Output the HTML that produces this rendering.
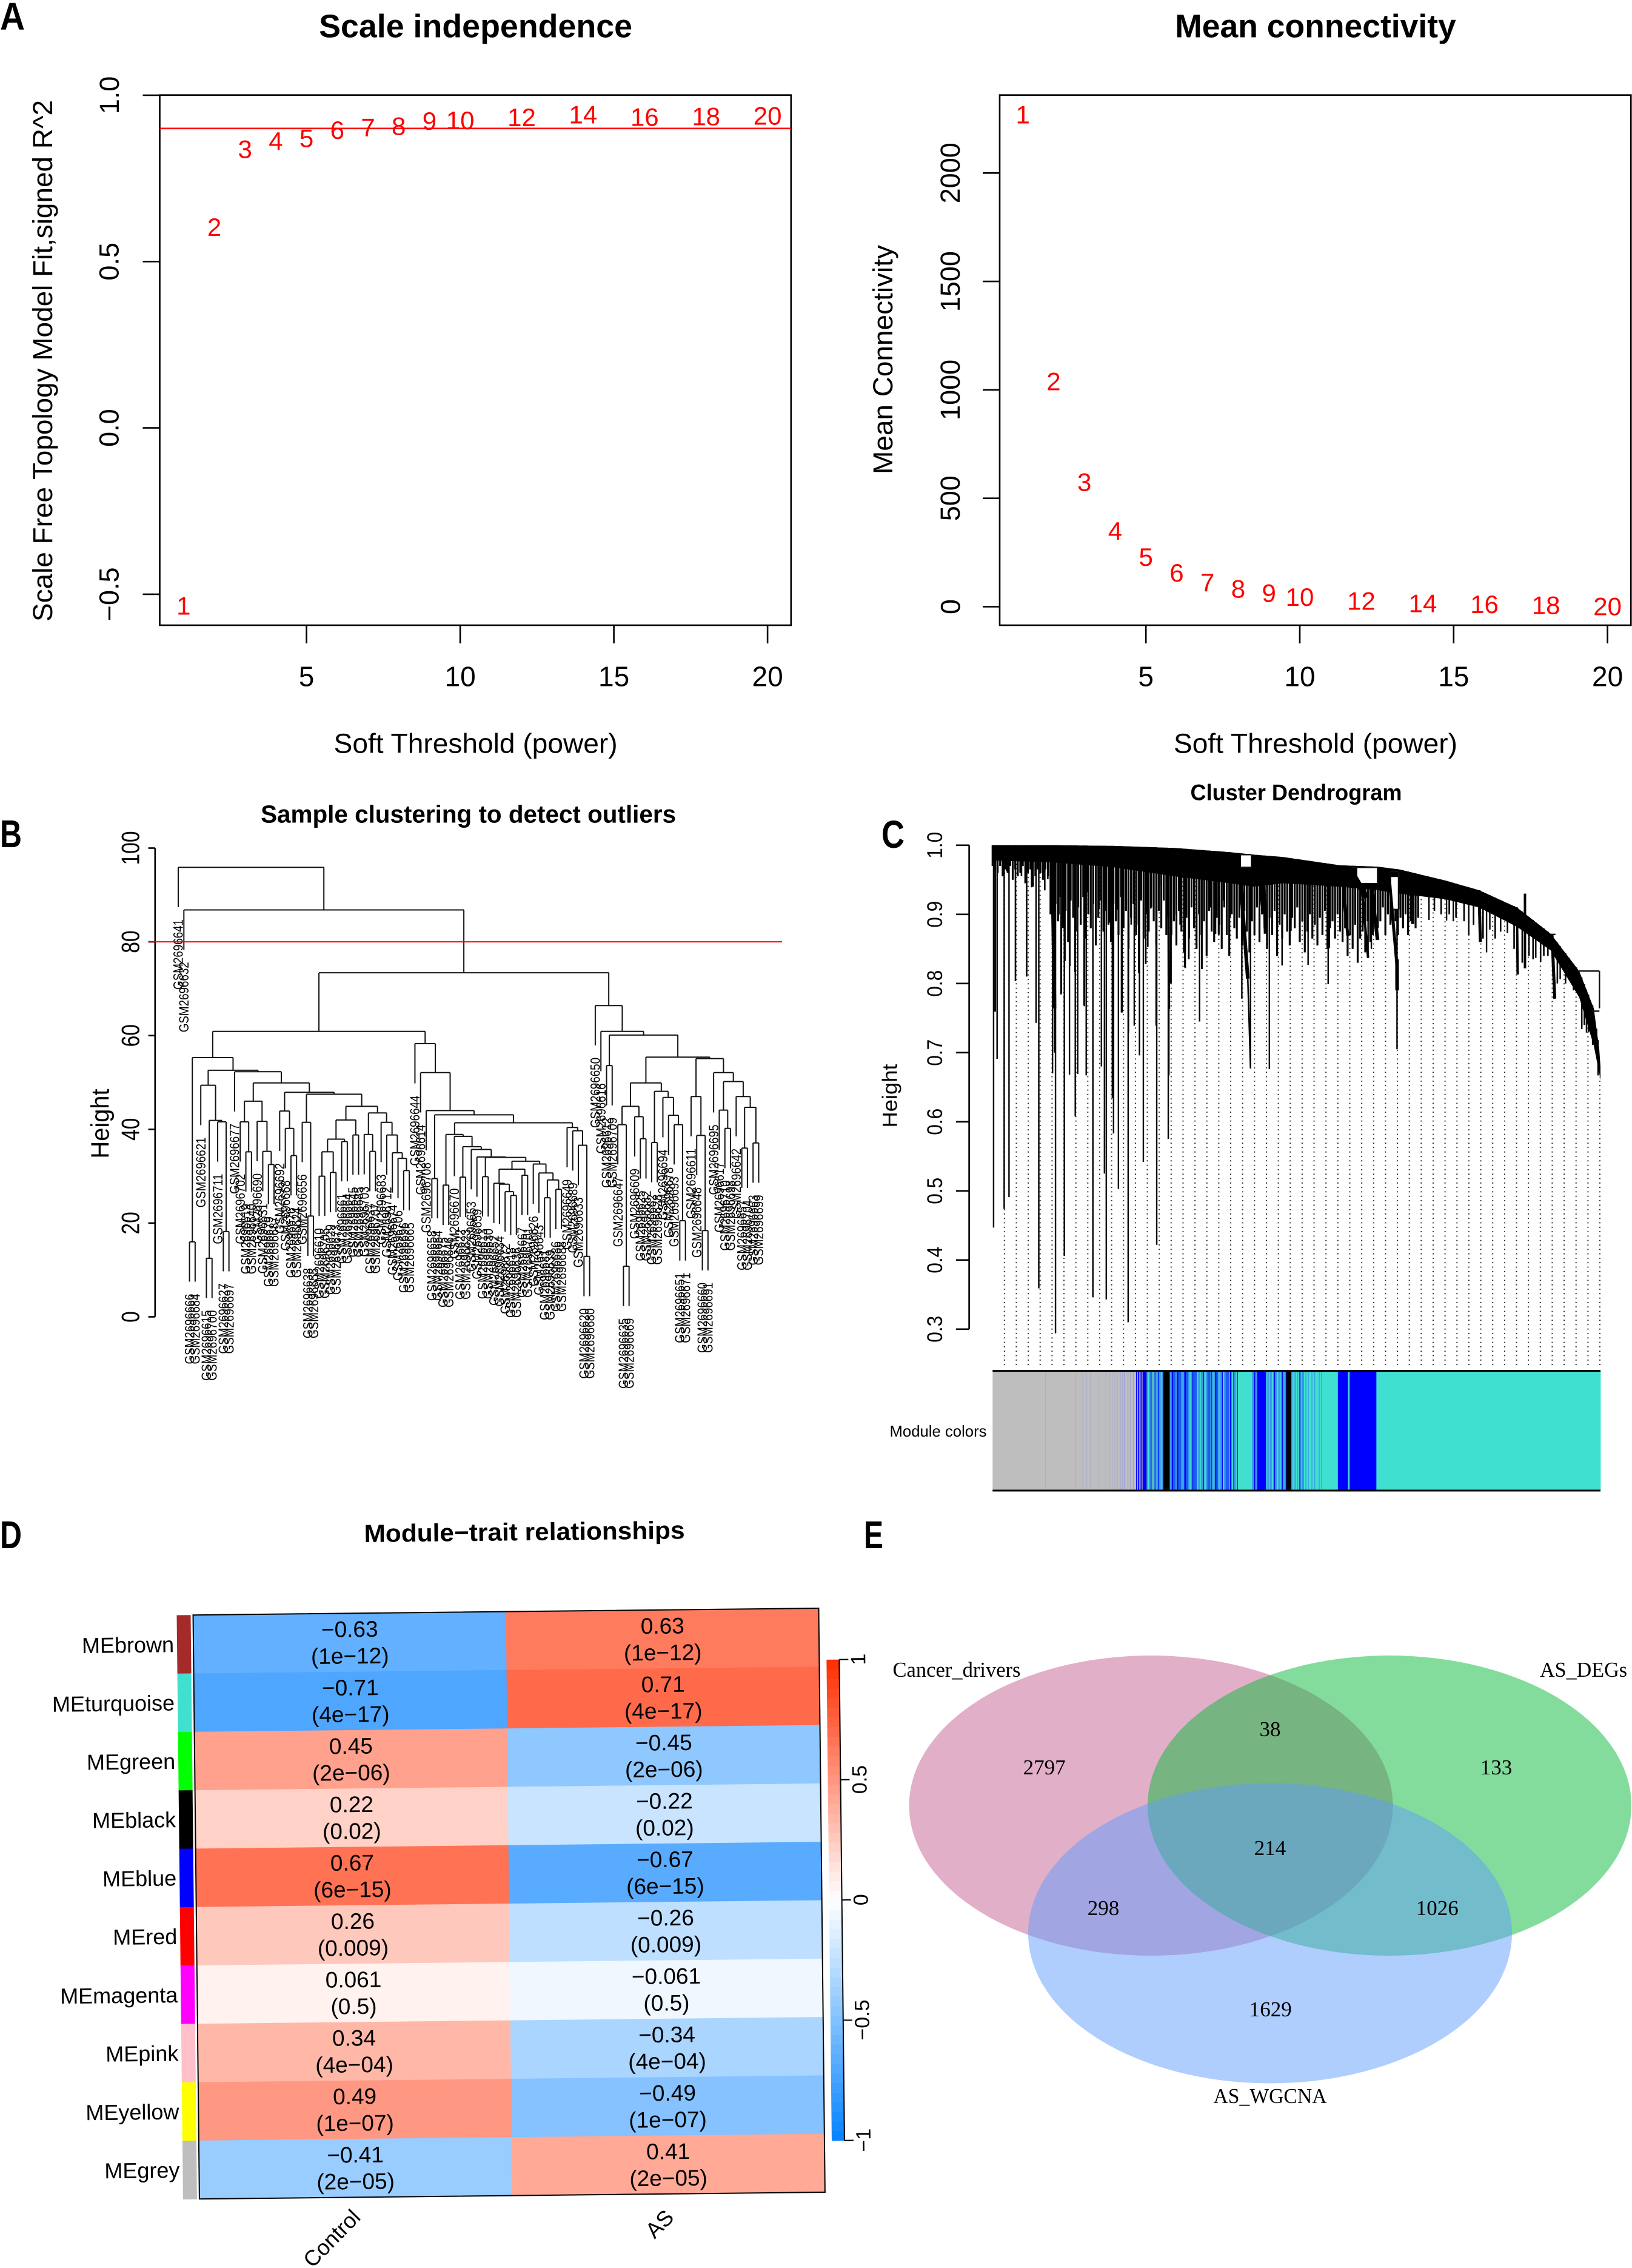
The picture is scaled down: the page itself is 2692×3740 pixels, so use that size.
<!DOCTYPE html>
<html lang="en">
<head>
<meta charset="utf-8">
<title>WGCNA analysis figure</title>
<style>
html,body{margin:0;padding:0;background:#fff;}
svg{display:block;font-family:"Liberation Sans",sans-serif;}
.serif{font-family:"Liberation Serif",serif;}
</style>
</head>
<body>
<svg id="figure" xmlns="http://www.w3.org/2000/svg" width="2692" height="3740" viewBox="0 0 2692 3740">
  <rect x="0" y="0" width="2692" height="3740" fill="#fff"/>

  <g font-weight="bold" font-size="64" fill="#000">
    <text x="0" y="49" textLength="41" lengthAdjust="spacingAndGlyphs">A</text>
    <text x="0" y="1397" textLength="36" lengthAdjust="spacingAndGlyphs">B</text>
    <text x="1454" y="1398" textLength="38" lengthAdjust="spacingAndGlyphs">C</text>
    <text x="0" y="2553" textLength="36" lengthAdjust="spacingAndGlyphs">D</text>
    <text x="1425" y="2553" textLength="32" lengthAdjust="spacingAndGlyphs">E</text>
  </g>

  <g id="panel-a"></g>
  <g id="panel-a2"></g>
  <g id="panel-b"></g>
  <g id="panel-c"></g>
  <g id="panel-d"></g>

  <g>
    <ellipse cx="1898.6" cy="2977.5" rx="399" ry="247.5" fill="#c55f91" fill-opacity="0.5"/>
    <ellipse cx="2292" cy="2977.5" rx="399" ry="247.5" fill="#09b939" fill-opacity="0.5"/>
    <ellipse cx="2095" cy="3188" rx="399" ry="247.5" fill="#5f9bfb" fill-opacity="0.5"/>
    <g class="serif" fill="#000" font-size="35" text-anchor="middle">
      <text x="1578" y="2765" textLength="211" lengthAdjust="spacingAndGlyphs">Cancer_drivers</text>
      <text x="2612" y="2765" textLength="144" lengthAdjust="spacingAndGlyphs">AS_DEGs</text>
      <text x="2095" y="3468" textLength="187" lengthAdjust="spacingAndGlyphs">AS_WGCNA</text>
      <text x="1722.6" y="2926">2797</text>
      <text x="2095" y="2863">38</text>
      <text x="2468" y="2926">133</text>
      <text x="2095" y="3059">214</text>
      <text x="1820" y="3158">298</text>
      <text x="2370.7" y="3158">1026</text>
      <text x="2095.7" y="3325">1629</text>
    </g>
  </g>
</svg>

<script>
/* ---------- Panel A data ---------- */
const softPowers = [1,2,3,4,5,6,7,8,9,10,12,14,16,18,20];
const scaleFitR2 = [-0.534,0.604,0.838,0.863,0.871,0.896,0.904,0.907,0.923,0.925,0.934,0.942,0.935,0.937,0.938];
const meanConnectivity = [2270,1040,575,350,230,157,112,83,63,45,27,16,12,7,2];
const powerTicks = [5,10,15,20];
const r2Ticks = [-0.5,0,0.5,1];
const r2TickLabels = ['\u22120.5','0.0','0.5','1.0'];
const r2Cutoff = 0.9;
const connTicks = [0,500,1000,1500,2000];

/* ---------- Panel B data ---------- */
const sampleHeightTicks = [0,20,40,60,80,100];
const outlierCutoff = 80;
const leafHang = 8.5;
const samplePrefix = 'GSM2696';
/* hclust tree: [merge height, left, right]; a number is a sample suffix */
const sampleTree =
[95.9,641,[86.8,632,[73.4,
 [60.9,
  [55.3,[16.0,666,684],
   [52.6,
    [49.4,621,[41.9,[12.5,615,700],[41.6,711,[18.2,627,697]]]],
    [52.3,677,[49.9,
      [46.0,[41.6,702,[35.2,619,640]],[41.7,690,[35.3,631,[32.5,679,687]]]],
      [47.9,
       [43.9,692,[40.2,668,[34.4,676,624]]],
       [47.5,
        [41.5,656,[21.5,638,655]],
        [44.9,
         [42.0,[37.9,[35.2,[30.0,610,705],[30.8,629,673]],[37.4,661,664]],[38.8,645,685]],
         [43.5,[38.9,703,[35.3,637,707]],[41.5,683,[38.8,712,[35.0,674,[33.8,706,[31.2,696,665]]]]]]
        ]]]]]]],
  [58.3,644,[52.1,614,[44.0,708,[43.1,[29.5,658,654],[41.4,
     [38.9,[28.1,675,646],[38.5,670,[36.3,[29.8,622,623],[35.7,653,[34.1,659,[34.0,[29.9,613,630],
        [33.2,
         [31.5,[28.5,652,[28.3,634,[26.7,672,[25.9,618,636]]]],[30.2,667,701]],
         [32.6,626,[30.7,643,[29.2,[25.4,681,639],[27.2,686,688]]]]
        ]]]]]]],
     [40.4,649,[39.7,689,[36.6,633,[12.9,620,680]]]]
  ]]]]]],
 [66.4,650,[60.9,616,[60.1,[53.6,612,709],[55.4,
   [49.9,
    [44.9,[41.0,647,[10.8,635,669]],[42.7,609,[38.0,625,682]]],
    [48.1,[37.2,662,628],[46.8,694,[43.0,678,[41.0,693,[20.5,651,671]]]]]
   ],
   [55.1,
    [47.0,611,[38.7,648,[18.4,660,691]]],
    [52.1,695,[50.2,[44.1,617,[40.2,710,698]],[47.0,642,[44.7,[36.0,657,704],[37.1,663,699]]]]]
   ]
 ]]]]
]]];

/* ---------- Panel C data ---------- */
const geneHeightTicks = [0.3,0.4,0.5,0.6,0.7,0.8,0.9,1.0];
const geneHeightLabels = ['0.3','0.4','0.5','0.6','0.7','0.8','0.9','1.0'];
const bandLeaf  = [0,.1,.2,.3,.39,.4286,.4776,.571,.633,.669,.7445,.80,.8625,.918,.965,.989,.998,1];
const bandUpper = [1,1,.999,.996,.99,.9864,.983,.971,.969,.965,.949,.935,.91,.872,.818,.764,.705,.68];
const bandLower = [.978,.975,.968,.955,.945,.94,.945,.94,.935,.93,.922,.91,.882,.848,.78,.71,.67,.66];
const spikeLeaf = [.0016,.004,.0074,.019,.027,.056,.0715,.076,.0986,.1035,.102,.1126,.118,.1265,.136,.14,.154,.151,.165,.179,.184,.187,.197,.199,.207,.213,.223,.2235,.2416,.248,.233,.27,.269,.289,.29,.293,.316,.3227,.335,.3405,.344,.3663,.3716,.3908,.41,.4243,.4553,.4762,.519,.552,.554,.6177,.6231,.6653,.7179,.7468,.7579,.7833,.8126,.818,.8469,.8936,.9016,.9337,.9426,.9484,.9604,.9693,.977,.9871,.996];
const spikeLow  = [.447,.759,.691,.474,.491,.81,.743,.359,.67,.294,.70,.784,.406,.668,.608,.669,.667,.767,.346,.68,.525,.343,.634,.583,.503,.758,.31,.728,.696,.542,.739,.422,.739,.575,.667,.80,.824,.835,.859,.745,.821,.872,.871,.895,.778,.677,.676,.826,.827,.799,.851,.837,.85,.705,.892,.891,.89,.87,.845,.878,.873,.837,.831,.806,.80,.806,.79,.734,.729,.711,.667];
const midDropLeaf = [.0043,.0233,.0376,.0475,.0559,.0642,.0858,.0908,.1090,.1130,.1190,.1270,.1356,.1506,.1556,.1749,.1928,.2054,.2121,.2280,.2403,.2520,.2553,.2603,.2769,.2869,.2935,.3018,.3085,.3168,.3228,.3351,.3444,.3583,.3667,.3723,.3799,.3899,.7268,.7379,.7512,.7623,.7756,.7912,.8068,.8268,.8357,.8579,.8713,.8824,.8891,.9068,.9135,.9291,.9557,.9735,.9802,.9935];
const midDropLow  = [.7595,.9624,.8033,.9551,.8106,.9391,.9347,.9508,.8997,.7858,.8325,.8252,.8164,.7683,.9318,.9084,.8880,.9070,.7580,.8851,.8150,.8281,.8529,.9084,.9420,.8967,.8004,.8997,.8851,.8223,.8354,.8588,.8208,.9099,.8719,.8705,.9201,.8953,.905,.90,.9,.895,.89,.885,.865,.865,.875,.85,.83,.84,.835,.84,.84,.80,.79,.74,.73,.70];
const fringeLow = [.97,.965,.96,.97,.955,.965,.96,.97,.95,.965,.955,.96,.97,.945,.96,.965,.94,.955,.965,.96,.95,.965,.955,
 .90,.87,.915,.89,.925,.88,.905,.86,.92,.895,.875,.91,.885,.925,.865,.90,.88,.915,.855,.895,.92,.875,.905,.885,.86,.915,.89,.87,.925,.88,.905,.85,.895,.915,.87,.885,.92,.865,.90,.875,.91,.89,.855,.905,.88,.92,.87,.895,
 .87,.89,.855,.905,.875,.845,.895,.865,.91,.88,.85,.90,.87,.89,.84,.905,.875,.86,.895,.885,.85,.91,.87,.84,.90,.88,.865,.895,.855,.905,.875,.845,.89,.87,.91,.86,.90,.88,.85,.895,.87,.905,.84,.885,.865,.90,.875,.855,.895,.88,.91,.86,.89,.845,.875,.90,.865,.885,.855,.895,.87,.905,.85,.88,.89,.865,.90,.875,
 .86,.88,.84,.87,.85,.885,.83,.865,.875,.845,.89,.86,.87,.90,.88,.89,.91,.87,.90,.885,.905,.89,.87,.895,.88,.90,.87,.89,.905,.88,.895];
const fringeSpan = 0.70;
/* open gaps between branches */
const gapFrom = [.4086,.5999,.6556];
const gapTo   = [.4250,.6333,.6667];
const gapHigh = [.9864,.968,.954];
const gapLow  = [.968,.9455,.907];
/* collapsed clusters: start leaf, end leaf, top height, bottom height, weight */
const clusterFrom = [.0978,.2892,.4063,.4198,.4384,.4464,.4909,.5732,.5866,.6066,.6244,.6533,.6653,.6911,.8002,.8625,.8758,.9203];
const clusterTo   = [.1019,.2901,.4198,.4243,.4464,.4486,.4900,.5844,.6155,.6177,.6333,.6653,.6655,.6911,.8024,.8638,.8758,.9248];
const clusterTop  = [.995,.98,.968,.807,.983,.95,.98,.969,.968,.945,.93,.945,.835,.96,.935,.91,.93,.87];
const clusterLow  = [.764,.763,.807,.677,.901,.872,.876,.869,.924,.837,.863,.825,.79,.886,.86,.813,.822,.778];
const clusterWeight = [6,4,6,2.5,8,5,4,5,9,4,6,5,6,5,5,4,4,5];
const branchLeafA = [.965,.9983,.591,.6333,.6547,.668,.6547,.4063,.4063,.918,.985];
const branchLeafB = [.9983,.9983,.6333,.6333,.668,.668,.668,.425,.425,.926,.9983];
const branchHighA = [.818,.818,.968,.968,.962,.962,.907,.9864,.968,.871,.76];
const branchHighB = [.818,.764,.968,.945,.962,.907,.907,.9864,.968,.871,.76];
/* module colour runs: one letter for the module, then its size */
const moduleRuns = ('g130 l1 g74 l1 g16 l1 g9 l1 g8 l1 g20 l1 g16 l1 g9 l1 g5 l1 g5 l1 g4 l2 g6 l2 g3 l2 g3 l3 g6 l2 g4 l2 g5 l3 g5 b2 l3 b3 g3 b3 g2 ' +
 'b10 a4 t2 m4 b2 a3 t2 m3 b2 t2 m5 b2 m4 t2 m3 b3 k14 ' +
 'm5 b3 d6 m4 b3 d8 t2 m5 b4 d6 m3 t3 m4 b2 d9 t3 m5 t2 m6 b2 t4 m4 d7 m3 b2 t3 m4 b3 d5 t3 m6 b2 t3 m4 d8 m3 b3 m2 t3 b2 m4 t3 b2 t2 ' +
 't33 m5 b3 m5 b22 t3 m4 t2 m5 t3 m3 b2 m5 t3 m4 t2 m3 b2 m5 t2 b2 k12 ' +
 'm3 t5 m3 t4 m2 t3 b2 m3 t3 b1 m2 t4 m2 t4 m2 t7 m2 t5 m2 t9 m2 t4 m2 t10 t29 b25 t4 b66 t553').split(' ');
const moduleRunColours = {g:'#bebebe',l:'#a3a8d0',b:'#0000ff',t:'#40e0d0',m:'#3a9ce6',d:'#1a5cf0',a:'#5f9fa8',k:'#000000'};
const dottedGuideCount = 51;

/* ---------- Panel D data ---------- */
const moduleNames = ['MEbrown','MEturquoise','MEgreen','MEblack','MEblue','MEred','MEmagenta','MEpink','MEyellow','MEgrey'];
const moduleSwatches = ['#a52a2a','#40e0d0','#00ff00','#000000','#0000ff','#ff0000','#ff00ff','#ffc0cb','#ffff00','#bebebe'];
const controlCorr = [-0.63,-0.71,0.45,0.22,0.67,0.26,0.061,0.34,0.49,-0.41];
const asCorr = [0.63,0.71,-0.45,-0.22,-0.67,-0.26,-0.061,-0.34,-0.49,0.41];
const corrPvalues = ['1e\u221212','4e\u221217','2e\u221206','0.02','6e\u221215','0.009','0.5','4e\u221204','1e\u221207','2e\u221205'];
const traitNames = ['Control','AS'];
const scaleTicks = [-1,-0.5,0,0.5,1];
const scaleTickLabels = ['\u22121','\u22120.5','0','0.5','1'];

/* ---------- helpers ---------- */
const NS = 'http://www.w3.org/2000/svg';
function mk(tag, attrs, parent, txt){
  const el = document.createElementNS(NS, tag);
  for (const k in attrs) el.setAttribute(k, attrs[k]);
  if (txt !== undefined) el.textContent = txt;
  parent.appendChild(el);
  return el;
}
function label(parent, str, x, y, size, extra){
  const rot = extra && extra.rot;
  const a = {x:x, y:y, 'font-size':size, 'text-anchor':(extra && extra.anchor) || 'middle', dy:'0.35em', fill:(extra && extra.fill) || '#000'};
  if (extra && extra.bold) a['font-weight'] = 'bold';
  if (extra && extra.len) { a.textLength = extra.len; a.lengthAdjust = 'spacingAndGlyphs'; }
  if (rot) a.transform = 'rotate(' + rot + ' ' + x + ' ' + y + ')';
  return mk('text', a, parent, str);
}
function interp(xs, ys, x){
  for (let i = 1; i < xs.length; i++) {
    if (x <= xs[i]) {
      const t = (x - xs[i-1]) / (xs[i] - xs[i-1]);
      return ys[i-1] + t * (ys[i] - ys[i-1]);
    }
  }
  return ys[ys.length-1];
}
const fig = document.getElementById('figure');
const AXW = 2.6;

/* ---------- Panel A: scale independence & mean connectivity ---------- */
function drawPowerPanel(g, cfg){
  const xS = cfg.xS, yS = cfg.yS;
  const box = mk('rect',{x:cfg.left,y:156.7,width:cfg.right-cfg.left,height:874.3,fill:'none',stroke:'#000','stroke-width':AXW},g);
  
  
  powerTicks.forEach(function(p){
    const t = mk('line',{x1:xS(p),x2:xS(p),y1:1031,y2:1061,stroke:'#000','stroke-width':AXW},g);
    
    
    const l = label(g, String(p), xS(p), 1115.4, 46);
    
    
  });
  cfg.yTicks.forEach(function(v, i){
    const t = mk('line',{x1:cfg.left-28,x2:cfg.left,y1:yS(v),y2:yS(v),stroke:'#000','stroke-width':AXW},g);
    
    
    const l = label(g, cfg.yLabels[i], cfg.yLabelX, yS(v), 45, {rot:-90});
    
    
  });
  if (cfg.cutoff !== undefined) {
    const c = mk('line',{x1:cfg.left,x2:cfg.right,y1:yS(cfg.cutoff),y2:yS(cfg.cutoff),stroke:'#f00','stroke-width':2.6},g);
    
    
  }
  softPowers.forEach(function(p, i){
    const l = label(g, String(p), xS(p), yS(cfg.values[i]), 42, {fill:'#f00'});
    
    
  });
  const t = label(g, cfg.title, cfg.center, 42.6, 54, {bold:true, len:cfg.titleLen});
  
  
  const xt = label(g, 'Soft Threshold (power)', cfg.center, 1225.5, 45, {len:468});
  
  
  const yt = label(g, cfg.yTitle, cfg.yTitleX, cfg.yTitleY, 45, {rot:-90, len:cfg.yTitleLen});
  
  
}
drawPowerPanel(document.getElementById('panel-a'), {
  id:'scale-independence', left:263.5, right:1304.8,
  xS:function(p){return 505.6 + (p-5)*50.7;},
  yS:function(v){return 705.6 - 548.6*v;},
  yTicks:r2Ticks, yLabels:r2TickLabels, yLabelX:180, cutoff:r2Cutoff, values:scaleFitR2,
  title:'Scale independence', center:784.6, titleLen:517,
  yTitle:'Scale Free Topology Model Fit,signed R^2', yTitleX:70, yTitleY:595, yTitleLen:860
});
drawPowerPanel(document.getElementById('panel-a2'), {
  id:'mean-connectivity', left:1649, right:2690.3,
  xS:function(p){return 1890.2 + (p-5)*50.76;},
  yS:function(v){return 1000.5 - 0.3576*v;},
  yTicks:connTicks, yLabels:connTicks.map(String), yLabelX:1567.5, values:meanConnectivity,
  title:'Mean connectivity', center:2170, titleLen:463.5,
  yTitle:'Mean Connectivity', yTitleX:1456, yTitleY:593, yTitleLen:378
});

/* ---------- Panel B: sample clustering ---------- */
(function(){
  const g = document.getElementById('panel-b');
  const xLeaf = function(i){ return 294 + i*9.296; };
  const yH = function(h){ return 2171.5 - 7.73*h; };
  const ax = mk('line',{x1:255.8,x2:255.8,y1:yH(100),y2:yH(0),stroke:'#000','stroke-width':AXW},g);
  
  
  sampleHeightTicks.forEach(function(v){
    const t = mk('line',{x1:244.6,x2:255.8,y1:yH(v),y2:yH(v),stroke:'#000','stroke-width':AXW},g);
    
    
    const s = String(v);
    const l = label(g, s, 214.6, yH(v), 42, {rot:-90, len:s.length*18.7});
    
    
  });
  let leafIndex = 0;
  function seg(x1,y1,x2,y2){
    const s = mk('line',{x1:x1,y1:y1,x2:x2,y2:y2,stroke:'#111','stroke-width':2},g);
    
    
  }
  function walk(node){
    if (typeof node === 'number') {
      return {x:xLeaf(leafIndex++), leaf:node};
    }
    const a = walk(node[1]);
    const b = walk(node[2]);
    const y = yH(node[0]);
    seg(a.x, y, b.x, y);
    [a,b].forEach(function(c){
      if (c.leaf !== undefined) {
        const yb = yH(node[0] - leafHang);
        seg(c.x, y, c.x, yb);
        const t = label(g, samplePrefix + c.leaf, c.x, yb + 20, 22, {rot:-90, anchor:'end', len:116});
        
        
      } else {
        seg(c.x, y, c.x, yH(c.h));
      }
    });
    return {x:(a.x+b.x)/2, h:node[0]};
  }
  walk(sampleTree);
  const r = mk('line',{x1:244.6,x2:1290,y1:yH(outlierCutoff),y2:yH(outlierCutoff),stroke:'#f00','stroke-width':2},g);
  
  
  const t = label(g, 'Sample clustering to detect outliers', 772.6, 1342, 41, {bold:true, len:685});
  
  
  const yt = label(g, 'Height', 165, 1853, 42, {rot:-90, len:115});
  
  
})();

/* ---------- Panel C: cluster dendrogram ---------- */
(function(){
  const g = document.getElementById('panel-c');
  const L = 1637.3, W = 1002.7;
  const xF = function(f){ return L + f*W; };
  const yH = function(h){ return 1393.8 + (1-h)*1140; };
  const ax = mk('line',{x1:1598.6,x2:1598.6,y1:yH(1),y2:yH(0.3),stroke:'#000','stroke-width':AXW},g);
  
  
  geneHeightTicks.forEach(function(v,i){
    const t = mk('line',{x1:1577,x2:1598.6,y1:yH(v),y2:yH(v),stroke:'#000','stroke-width':AXW},g);
    
    
    const l = label(g, geneHeightLabels[i], 1541.7, yH(v), 35, {rot:-90, len:44});
    
    
  });
  /* dotted guides */
  for (let i = 0; i < dottedGuideCount; i++) {
    const f = (1656.8 + i*(2639-1656.8)/(dottedGuideCount-1) - L)/W;
    const d = mk('line',{x1:xF(f),x2:xF(f),y1:2251,y2:yH(interp(bandLeaf,bandLower,f)),stroke:'#222','stroke-width':2,'stroke-dasharray':'1.8 5.5'},g);
    
    
  }
  /* dense band */
  let pts = [];
  bandLeaf.forEach(function(f,i){ pts.push(xF(f).toFixed(1)+','+yH(bandUpper[i]).toFixed(1)); });
  for (let i = bandLeaf.length-1; i >= 0; i--) pts.push(xF(bandLeaf[i]).toFixed(1)+','+yH(bandLower[i]).toFixed(1));
  const band = mk('polygon',{points:pts.join(' '),fill:'#000'},g);
  
  
  /* fringe */
  fringeLow.forEach(function(h,i){
    const f = i/(fringeLow.length-1)*fringeSpan;
    const s = mk('line',{x1:xF(f),x2:xF(f),y1:yH(interp(bandLeaf,bandUpper,f)),y2:yH(h),stroke:'#000','stroke-width':3.2},g);
    
    
  });
  /* mid-length drops */
  midDropLeaf.forEach(function(f,i){
    const s = mk('line',{x1:xF(f),x2:xF(f),y1:yH(interp(bandLeaf,bandUpper,f)),y2:yH(midDropLow[i]),stroke:'#000','stroke-width':2.6},g);
    
    
  });
  /* long drops */
  spikeLeaf.forEach(function(f,i){
    const s = mk('line',{x1:xF(f),x2:xF(f),y1:yH(interp(bandLeaf,bandUpper,f)),y2:yH(spikeLow[i]),stroke:'#000','stroke-width':2.4},g);
    
    
  });
  /* white gaps */
  gapFrom.forEach(function(f,i){
    const s = mk('rect',{x:xF(f),y:yH(gapHigh[i]),width:(gapTo[i]-f)*W,height:yH(gapLow[i])-yH(gapHigh[i]),fill:'#fff'},g);
    
    
  });
  /* collapsed clusters */
  clusterFrom.forEach(function(f,i){
    const s = mk('line',{x1:xF(f),x2:xF(clusterTo[i]),y1:yH(clusterTop[i]),y2:yH(clusterLow[i]),stroke:'#000','stroke-width':clusterWeight[i]},g);
    
    
  });
  /* open brackets */
  branchLeafA.forEach(function(f,i){
    const s = mk('line',{x1:xF(f),x2:xF(branchLeafB[i]),y1:yH(branchHighA[i]),y2:yH(branchHighB[i]),stroke:'#111','stroke-width':2.4},g);
    
    
  });
  /* module colour bar */
  const runKeys = moduleRuns.map(function(r){ return r.charAt(0); });
  const runSizes = moduleRuns.map(function(r){ return parseInt(r.slice(1), 10); });
  const total = runSizes.reduce(function(a,b){return a+b;},0);
  let acc = 0;
  runSizes.forEach(function(sz,i){
    const r = mk('rect',{x:xF(acc/total),y:2260.6,width:sz/total*W+0.4,height:197.4,fill:moduleRunColours[runKeys[i]]},g);
    
    
    acc += sz;
  });
  [2260.6,2458].forEach(function(y){
    const r = mk('line',{x1:L,x2:L+W,y1:y,y2:y,stroke:'#000','stroke-width':3},g);
    
    
  });
  const mc = label(g, 'Module colors', 1547.5, 2360, 26, {len:160});
  
  
  const t = label(g, 'Cluster Dendrogram', 2138, 1306.7, 37, {bold:true, len:349});
  
  
  const yt = label(g, 'Height', 1467.6, 1807, 34, {rot:-90, len:105});
  
  
})();

/* ---------- Panel D: module-trait heatmap ---------- */
(function(){
  const outer = document.getElementById('panel-d');
  const g = mk('g',{transform:'translate(318.5,2663.2) rotate(-0.62)'},outer);
  
  
  const HW = 1032, HH = 963;
  const rowH = HH/moduleNames.length, colW = HW/traitNames.length;
  function corrColour(v){
    const t = Math.min(1, Math.abs(v));
    const mix = function(a){ return Math.round(255 + (a-255)*t); };
    return v >= 0 ? 'rgb(255,'+mix(45)+','+mix(0)+')' : 'rgb('+mix(5)+','+mix(130)+',255)';
  }
  function fmt(v){
    const s = String(Math.abs(v));
    return (v < 0 ? '\u2212' : '') + s;
  }
  const series = [controlCorr, asCorr];
  moduleNames.forEach(function(name,r){
    const sw = mk('rect',{x:-27,y:r*rowH,width:23,height:rowH+0.5,fill:moduleSwatches[r]},g);
    
    
    const lb = label(g, name, -32, (r+0.5)*rowH, 36, {anchor:'end'});
    
    
    series.forEach(function(vals,c){
      const cell = mk('rect',{x:c*colW,y:r*rowH,width:colW+0.5,height:rowH+0.5,fill:corrColour(vals[r])},g);
      
      
      const t1 = label(g, fmt(vals[r]), (c+0.5)*colW, r*rowH+26, 37);
      
      
      const t2 = label(g, '(' + corrPvalues[r] + ')', (c+0.5)*colW, r*rowH+70, 37);
      
      
    });
  });
  const frame = mk('rect',{x:0,y:0,width:HW,height:HH,fill:'none',stroke:'#000','stroke-width':2},g);
  
  
  /* colour scale */
  const yScale = function(v){ return 481.5 - 396.5*v; };
  const steps = 50;
  for (let i = 0; i < steps; i++) {
    const v0 = -1 + 2*i/steps, v1 = -1 + 2*(i+1)/steps;
    const s = mk('rect',{x:1044,y:yScale(v1),width:21,height:yScale(v0)-yScale(v1)+0.5,fill:corrColour((v0+v1)/2)},g);
    
    
  }
  const sl = mk('line',{x1:1065,x2:1065,y1:yScale(1),y2:yScale(-1),stroke:'#000','stroke-width':2},g);
  
  
  scaleTicks.forEach(function(v,i){
    const t = mk('line',{x1:1065,x2:1080,y1:yScale(v),y2:yScale(v),stroke:'#000','stroke-width':2},g);
    
    
    const l = label(g, scaleTickLabels[i], 1096, yScale(v), 34, {rot:-90});
    
    
  });
  const title = label(g, 'Module\u2212trait relationships', 548, -131.5, 41, {bold:true, len:529});
  
  
  const traitPos = [[547,3691],[1087.7,3667]];
  traitNames.forEach(function(n,i){
    const t = mk('text',{transform:'translate('+traitPos[i][0]+','+traitPos[i][1]+') rotate(-45.6)','font-size':36,'text-anchor':'middle',dy:'0.35em',fill:'#000'},outer,n);
    
    
  });
})();
</script>
</body>
</html>
